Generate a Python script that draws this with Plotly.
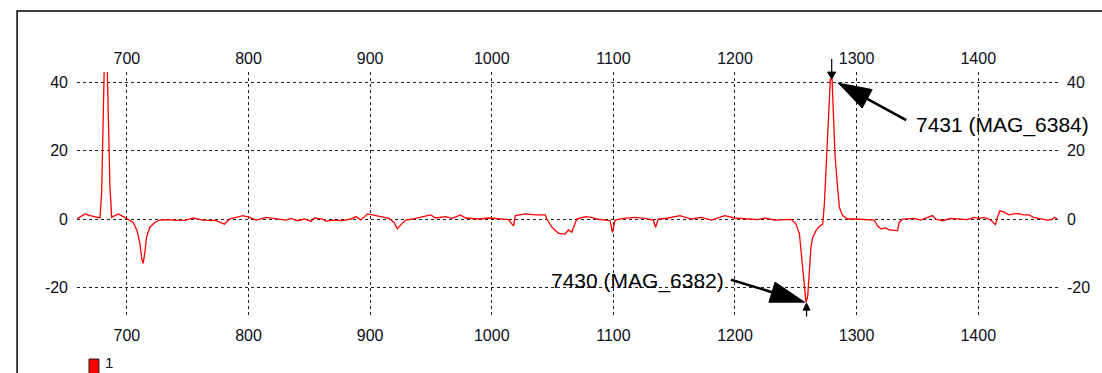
import math
import plotly.graph_objects as go

# Spectrum trace (single series "1")
series_name = "1"

wavelength = [
    658.8, 665.6, 669.7, 677.9, 679.3, 680.6, 681.6, 683.6, 684.7, 686.1,
    687.5, 692.9, 697.0, 701.1, 705.2, 708.4, 710.7, 712.3, 713.4, 714.8,
    716.1, 718.9, 723.0, 727.0, 732.5, 740.7, 748.9, 754.3, 762.5, 773.5,
    780.3, 784.4, 795.3, 800.8, 806.3, 814.5, 822.7, 830.9, 835.0, 840.4,
    845.9, 851.4, 854.1, 860.9, 863.7, 869.1, 877.3, 884.2, 888.3, 892.4,
    897.8, 901.9, 907.4, 915.6, 919.7, 922.4, 925.2, 929.3, 934.7, 942.9,
    949.8, 953.9, 962.0, 967.5, 974.3, 978.4, 989.3, 997.5, 1005.7, 1013.9,
    1016.6, 1018.0, 1019.4, 1027.6, 1035.8, 1044.0, 1045.3, 1049.4, 1054.9, 1060.4,
    1063.1, 1065.8, 1069.9, 1076.8, 1082.2, 1086.3, 1093.2, 1097.3, 1099.2, 1101.4,
    1108.2, 1117.8, 1126.0, 1132.8, 1134.7, 1136.9, 1145.1, 1154.7, 1164.2, 1172.4,
    1180.6, 1191.6, 1199.8, 1208.0, 1218.9, 1224.3, 1232.5, 1240.7, 1246.1, 1250.2,
    1253.0, 1254.3, 1255.7, 1257.1, 1258.4, 1259.8, 1261.2, 1262.5, 1263.9, 1266.6,
    1269.4, 1272.1, 1273.5, 1274.8, 1276.2, 1277.6, 1278.4, 1279.8, 1281.1, 1282.2,
    1283.9, 1285.8, 1288.5, 1292.6, 1299.4, 1306.3, 1314.5, 1317.2, 1319.9, 1324.0,
    1326.8, 1333.6, 1335.0, 1337.7, 1341.8, 1347.3, 1352.7, 1358.2, 1362.3, 1365.0,
    1370.5, 1377.3, 1384.2, 1391.0, 1396.5, 1400.6, 1404.7, 1408.8, 1411.5, 1414.2,
    1415.6, 1417.8, 1421.1, 1425.2, 1429.3, 1433.3, 1437.5, 1441.6, 1445.7, 1451.1,
    1456.6, 1460.7, 1462.5, 1464.8,
]

signal = [
    0.0, 1.5, 1.0, 0.3, 8.0, 29.0, 48.0, 48.0, 31.0, 9.5,
    0.5, 1.5, 0.7, -0.2, -1.0, -3.4, -7.3, -11.7, -13.0, -9.8,
    -5.4, -2.4, -1.0, -0.3, -0.2, -0.4, -0.3, 0.3, -0.3, -0.5,
    -1.5, 0.0, 1.0, 0.5, -0.3, 0.5, 0.0, -0.3, 0.2, -0.5,
    0.0, -0.7, 0.3, 0.0, -0.7, -0.3, -0.5, 0.0, 0.7, -0.3,
    1.5, 1.2, 0.8, 0.2, -1.0, -2.9, -1.7, -0.3, 0.0, 0.7,
    1.2, 0.3, 0.7, 0.2, 1.2, 0.3, 0.0, 0.3, 0.1, -0.2,
    -1.5, -2.0, 1.0, 1.5, 1.2, 1.2, 0.0, -2.4, -4.2, -4.4,
    -3.2, -3.9, 0.0, 0.7, 0.5, 0.0, -0.3, -0.5, -3.9, -0.3,
    0.2, 0.5, 0.2, -0.3, -2.4, 0.0, 0.3, 1.0, 0.0, 0.5,
    -0.3, 1.0, 0.3, 0.0, -0.2, 0.3, -0.3, -0.2, -0.1, -1.5,
    -4.4, -9.3, -15.0, -21.0, -24.5, -22.5, -16.0, -8.2, -5.4, -3.4,
    -2.2, -1.5, 4.4, 14.0, 23.8, 33.6, 41.0, 41.0, 28.8, 19.0,
    11.2, 3.4, 1.0, 0.0, 0.0, -0.2, -0.3, -2.0, -2.9, -2.6,
    -3.2, -3.4, -1.0, 0.0, 0.0, 0.2, -0.3, 0.5, 1.0, 0.0,
    -0.5, 0.2, 0.0, -0.2, 0.5, 0.2, 0.5, 0.0, -0.7, -1.7,
    0.3, 2.4, 2.0, 1.2, 1.5, 1.6, 1.2, 1.2, 0.5, 0.0,
    -0.3, -0.2, 0.5, 0.1,
]

peak_label = "7431 (MAG_6384)"
trough_label = "7430 (MAG_6382)"

x_ticks = [700, 800, 900, 1000, 1100, 1200, 1300, 1400]
y_ticks = [-20, 0, 20, 40]
y_tick_text = ["-20", "0", "20", "40"]
x_range = [659.0, 1466.4]
y_range = [-29.0, 43.07]

FONT = "Liberation Sans, Arial, sans-serif"
TICK_COLOR = "#0d0d1a"

# Marked extremes: tallest peak after 1200 and the deepest trough
peak_val = max(v for w, v in zip(wavelength, signal) if w > 1200)
peak_xs = [w for w, v in zip(wavelength, signal) if w > 1200 and v == peak_val]
peak_x = sum(peak_xs) / len(peak_xs)
trough_val = min(signal)
trough_x = wavelength[signal.index(trough_val)]

fig = go.Figure()
fig.add_trace(go.Scatter(
    x=wavelength, y=signal, mode="lines", name=series_name,
    line=dict(color="#ff0000", width=1.3), showlegend=False,
    xaxis="x", yaxis="y",
))

tickfont = dict(family=FONT, size=16, color=TICK_COLOR)
common = dict(zeroline=False, showline=False, ticks="", tickfont=tickfont)
grid = dict(showgrid=True, gridcolor="#222222", gridwidth=1, griddash="3px,3px")

fig.update_layout(
    width=1102, height=373,
    margin=dict(l=77, r=41, t=72, b=55),
    paper_bgcolor="white", plot_bgcolor="white",
    showlegend=False,
    xaxis=dict(range=x_range, tickvals=x_ticks, side="bottom",
               ticklabelstandoff=6, **grid, **common),
    xaxis2=dict(range=x_range, tickvals=x_ticks, side="top", overlaying="x",
                anchor="y", matches="x", showgrid=False,
                ticklabelstandoff=4, **common),
    yaxis=dict(range=y_range, tickvals=y_ticks, ticktext=y_tick_text, side="left",
               ticklabelstandoff=8, **grid, **common),
    yaxis2=dict(range=y_range, tickvals=y_ticks, ticktext=y_tick_text, side="right",
                overlaying="y", anchor="x", matches="y", showgrid=False,
                ticklabelstandoff=7, **common),
)

# Invisible carrier so the top/right axes are laid out
fig.add_trace(go.Scatter(x=[x_range[0]], y=[0], xaxis="x2", yaxis="y2",
                         mode="markers", marker=dict(opacity=0),
                         hoverinfo="skip", showlegend=False))


def to_paper_x(v):
    return (v - x_range[0]) / (x_range[1] - x_range[0])


def to_paper_y(v):
    return (v - y_range[0]) / (y_range[1] - y_range[0])


def arrow(xa, ya, tip, tail, head_len, head_half, width):
    """Filled arrowhead at `tip` with a shaft back to `tail` (pixel offsets, y up)."""
    dx, dy = tail[0] - tip[0], tail[1] - tip[1]
    n = math.hypot(dx, dy)
    ux, uy = dx / n, dy / n
    bx, by = tip[0] + ux * head_len, tip[1] + uy * head_len
    px, py = -uy * head_half, ux * head_half
    base = dict(type="path", xref="paper", yref="paper", xsizemode="pixel",
                ysizemode="pixel", xanchor=to_paper_x(xa), yanchor=to_paper_y(ya),
                layer="above")
    head = dict(base, path=f"M{tip[0]},{tip[1]} L{bx + px},{by + py} "
                           f"L{bx - px},{by - py} Z",
                fillcolor="black", line=dict(color="black", width=1))
    shaft = dict(base, path=f"M{bx},{by} L{tail[0]},{tail[1]}",
                 line=dict(color="black", width=width))
    return [shaft, head]


shapes = []
# peak: large pointer from label and small tick arrow from above
shapes += arrow(peak_x, peak_val, (7, -4), (75, -41), 33, 10.5, 2.6)
shapes += arrow(peak_x, peak_val, (0.5, 0), (0.5, 20), 7, 4, 1.2)
# trough: large pointer from label and small tick arrow from below
shapes += arrow(trough_x, trough_val, (-1.5, 0.5), (-75, 23), 34, 10.5, 2.6)
shapes += arrow(trough_x, trough_val, (0.5, -0.5), (0.5, -14), 7, 3.5, 1.2)

# outer frame (left and top edges visible)
shapes.append(dict(type="rect", xref="paper", yref="paper",
                   x0=(17 - 77) / 984, x1=(1110 - 77) / 984,
                   y0=(318 - 380) / 246, y1=(318 - 11) / 246,
                   line=dict(color="black", width=1.5), layer="above"))
# legend swatch
shapes.append(dict(type="rect", xref="paper", yref="paper",
                   x0=(89 - 77) / 984, x1=(99 - 77) / 984,
                   y0=(318 - 378) / 246, y1=(318 - 359) / 246,
                   fillcolor="#ff0000", line=dict(color="#222222", width=1)))

fig.update_layout(shapes=shapes)

fig.add_annotation(x=peak_x, y=peak_val, xref="x", yref="y", text=peak_label,
                   showarrow=False, xanchor="left", yanchor="middle",
                   xshift=83, yshift=-46,
                   font=dict(family=FONT, size=21, color="black"))
fig.add_annotation(x=trough_x, y=trough_val, xref="x", yref="y", text=trough_label,
                   showarrow=False, xanchor="right", yanchor="middle",
                   xshift=-80, yshift=22,
                   font=dict(family=FONT, size=21, color="black"))
fig.add_annotation(x=(103 - 77) / 984, y=(318 - 362) / 246, xref="paper", yref="paper",
                   text=series_name, showarrow=False, xanchor="left", yanchor="middle",
                   font=dict(family=FONT, size=15, color=TICK_COLOR))

fig.write_html("out.html")
